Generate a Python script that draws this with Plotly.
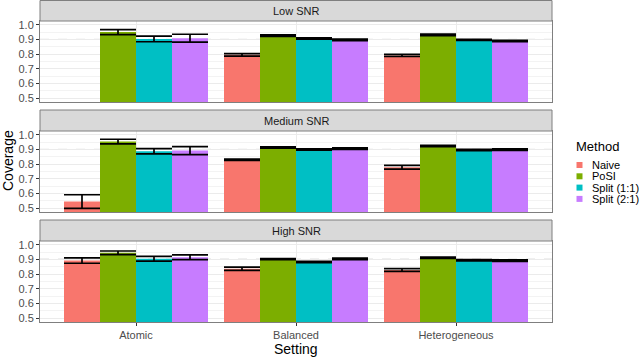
import plotly.graph_objects as go

settings = ["Atomic", "Balanced", "Heterogeneous"]
methods = ["Naive", "PoSI", "Split (1:1)", "Split (2:1)"]
snr_levels = ["Low SNR", "Medium SNR", "High SNR"]

# coverage (bar height) and half-width of error bar, per setting
low_cov = {
    "Naive": [None, 0.795, 0.791],
    "PoSI": [0.950, 0.926, 0.931],
    "Split (1:1)": [0.903, 0.906, 0.897],
    "Split (2:1)": [0.908, 0.897, 0.889],
}
low_err = {
    "Naive": [None, 0.009, 0.007],
    "PoSI": [0.017, 0.005, 0.005],
    "Split (1:1)": [0.019, 0.004, 0.004],
    "Split (2:1)": [0.027, 0.005, 0.005],
}
med_cov = {
    "Naive": [0.546, 0.830, 0.779],
    "PoSI": [0.953, 0.913, 0.923],
    "Split (1:1)": [0.888, 0.899, 0.896],
    "Split (2:1)": [0.892, 0.905, 0.898],
}
med_err = {
    "Naive": [0.046, 0.005, 0.013],
    "PoSI": [0.016, 0.004, 0.004],
    "Split (1:1)": [0.018, 0.004, 0.004],
    "Split (2:1)": [0.027, 0.005, 0.005],
}
high_cov = {
    "Naive": [0.892, 0.836, 0.828],
    "PoSI": [0.945, 0.902, 0.911],
    "Split (1:1)": [0.904, 0.882, 0.894],
    "Split (2:1)": [0.915, 0.904, 0.892],
}
high_err = {
    "Naive": [0.018, 0.011, 0.009],
    "PoSI": [0.012, 0.004, 0.004],
    "Split (1:1)": [0.016, 0.004, 0.004],
    "Split (2:1)": [0.016, 0.005, 0.005],
}
nominal = 0.9
y_ticks = [0.5, 0.6, 0.7, 0.8, 0.9, 1.0]

colors = ["#F8766D", "#7CAE00", "#00BFC4", "#C77CFF"]
font = "Liberation Sans, Arial, sans-serif"

W, H = 640, 358
L, R, T, B = 40, 88, 0, 36
PW, PH = W - L - R, H - T - B


def py(px):
    # pixel row (from top of plot area) -> paper y
    return (PH - px) / PH


def px_(x):
    # pixel column -> paper x
    return (x - L) / PW


panels = [(21, 102), (131, 212), (241, 322)]
strips = [(0.5, 21), (110, 131), (220, 241)]
data = [(low_cov, low_err), (med_cov, med_err), (high_cov, high_err)]

fig = go.Figure()

for k, (cov, err) in enumerate(data):
    sfx = "" if k == 0 else str(k + 1)
    for i, m in enumerate(methods):
        fig.add_trace(go.Bar(
            x=settings, y=cov[m], name=m,
            marker=dict(color=colors[i], line=dict(width=0)),
            error_y=dict(type="data", array=err[m], color="black",
                         thickness=1.7, width=18),
            xaxis="x" + sfx, yaxis="y" + sfx,
            offsetgroup=str(i), showlegend=False,
        ))

layout = dict(
    width=W, height=H,
    margin=dict(l=L, r=R, t=T, b=B, autoexpand=False),
    paper_bgcolor="white", plot_bgcolor="white",
    barmode="group", bargap=0.1, bargroupgap=0,
    font=dict(family=font, color="#4D4D4D"),
    showlegend=False,
    shapes=[], annotations=[],
)

for k, snr in enumerate(snr_levels):
    sfx = "" if k == 0 else str(k + 1)
    top, bot = panels[k]
    layout["xaxis" + sfx] = dict(
        domain=[0, 1], anchor="y" + sfx,
        type="category", categoryorder="array", categoryarray=settings,
        range=[-0.6, 2.6], automargin=False,
        showgrid=True, gridcolor="#EBEBEB", gridwidth=1,
        showline=True, mirror=True, linecolor="#7F7F7F", linewidth=1,
        showticklabels=(k == 2), ticks="outside" if k == 2 else "",
        ticklen=3, tickcolor="#333333",
        tickfont=dict(size=11, color="#4D4D4D"),
        zeroline=False,
    )
    layout["yaxis" + sfx] = dict(
        domain=[py(bot), py(top)], anchor="x" + sfx,
        range=[0.475, 1.025], automargin=False,
        tickmode="array", tickvals=y_ticks,
        ticktext=[f"{v:.1f}" for v in y_ticks],
        showgrid=True, gridcolor="#EBEBEB", gridwidth=1,
        minor=dict(tickmode="array", tickvals=[0.55, 0.65, 0.75, 0.85, 0.95],
                   showgrid=True, gridcolor="#F3F3F3", gridwidth=0.6, ticks=""),
        showline=True, mirror=True, linecolor="#7F7F7F", linewidth=1,
        ticks="outside", ticklen=3, tickcolor="#333333",
        tickfont=dict(size=11, color="#4D4D4D"),
        zeroline=False,
    )
    s0, s1 = strips[k]
    layout["shapes"].append(dict(
        type="rect", xref="paper", yref="paper",
        x0=0, x1=1, y0=py(s1), y1=py(s0),
        fillcolor="#D9D9D9", line=dict(color="#7F7F7F", width=1),
    ))
    layout["annotations"].append(dict(
        text=snr, xref="paper", yref="paper",
        x=0.5, y=(py(s0) + py(s1)) / 2, xanchor="center", yanchor="middle",
        showarrow=False, font=dict(size=11, color="#1A1A1A"),
    ))
    hl_color = "#333333" if k == 2 else "#999999"
    layout["shapes"].append(dict(
        type="line", xref="paper", yref="y" + sfx,
        x0=0, x1=1, y0=nominal, y1=nominal, layer="below",
        line=dict(color=hl_color, width=0.8, dash="dash"),
    ))

# legend drawn by hand (ggplot-style compact keys)
layout["annotations"].append(dict(
    text="Method", xref="paper", yref="paper",
    x=px_(574), y=py(146), xanchor="left", yanchor="middle",
    showarrow=False, font=dict(size=13, color="black"),
))
for i, m in enumerate(methods):
    yc = 165 + i * 11.3
    layout["shapes"].append(dict(
        type="rect", xref="paper", yref="paper",
        x0=px_(576.5), x1=px_(582.5), y0=py(yc + 3), y1=py(yc - 3),
        fillcolor=colors[i], line=dict(width=0),
    ))
    layout["annotations"].append(dict(
        text=m, xref="paper", yref="paper",
        x=px_(590), y=py(yc), xanchor="left", yanchor="middle",
        showarrow=False, font=dict(size=11, color="black"),
    ))

layout["annotations"].append(dict(
    text="Coverage", xref="paper", yref="paper",
    x=px_(8), y=0.5, textangle=-90,
    xanchor="center", yanchor="middle", showarrow=False,
    font=dict(size=14, color="black"),
))
layout["annotations"].append(dict(
    text="Setting", xref="paper", yref="paper",
    x=0.5, y=py(349), xanchor="center", yanchor="middle", showarrow=False,
    font=dict(size=14, color="black"),
))

fig.update_layout(**layout)
fig.write_html(
    "out.html",
    config={"displayModeBar": False},
    post_script="document.body.style.margin='0';document.body.style.padding='0';",
)
